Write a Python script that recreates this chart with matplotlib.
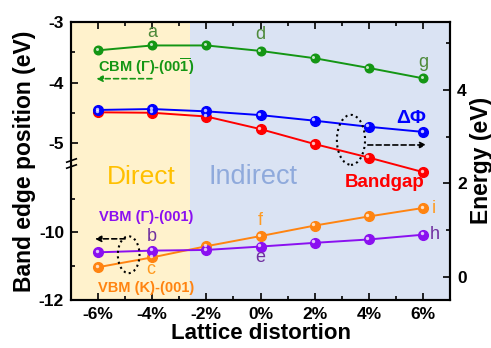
import numpy as np
import matplotlib
matplotlib.use("Agg")
import matplotlib.pyplot as plt
from matplotlib.patches import Ellipse
from matplotlib.transforms import offset_copy

plt.rcParams['font.family'] = ['Liberation Sans', 'DejaVu Sans']
plt.rcParams['font.weight'] = 'bold'
plt.rcParams['axes.labelweight'] = 'bold'
plt.rcParams['axes.unicode_minus'] = False
plt.rcParams['mathtext.fontset'] = 'custom'
plt.rcParams['mathtext.rm'] = 'Liberation Sans:bold'
plt.rcParams['mathtext.bf'] = 'Liberation Sans:bold'

# data
strain = [-6, -4, -2, 0, 2, 4, 6]
strain_labels = ['-6%', '-4%', '-2%', '0%', '2%', '4%', '6%']
cbm_gamma = [-3.47, -3.39, -3.39, -3.48, -3.60, -3.76, -3.93]
vbm_gamma = [-10.59, -10.54, -10.52, -10.42, -10.31, -10.21, -10.07]
vbm_k = [-11.03, -10.74, -10.41, -10.11, -9.80, -9.53, -9.28]
delta_phi = [3.57, 3.59, 3.54, 3.46, 3.34, 3.21, 3.10]
bandgap = [3.52, 3.51, 3.43, 3.16, 2.84, 2.55, 2.24]

# broken left axis: -12..-8 and -5.3..-3, gap squeezed to a few pixels
GAP_LO, GAP_HI = -8.0, -5.3
S_LO, S_HI, S_GAP = 33.8, 60.8, 3.0
B_TOP = (GAP_LO + 12) * S_LO


def fwd(y):
    y = np.asarray(y, float)
    return np.where(y <= GAP_LO, (y + 12) * S_LO,
                    np.where(y >= GAP_HI, B_TOP + S_GAP + (y - GAP_HI) * S_HI,
                             B_TOP + (y - GAP_LO) * S_GAP / (GAP_HI - GAP_LO)))


def inv(v):
    v = np.asarray(v, float)
    return np.where(v <= B_TOP, v / S_LO - 12,
                    np.where(v >= B_TOP + S_GAP, GAP_HI + (v - B_TOP - S_GAP) / S_HI,
                             GAP_LO + (v - B_TOP) * (GAP_HI - GAP_LO) / S_GAP))


fig = plt.figure(figsize=(4.91, 3.48), dpi=100)
ax = fig.add_axes([0.1446, 0.1379, 0.772, 0.7997])
ax.set_xlim(-7, 7)
ax.set_yscale('function', functions=(fwd, inv))
ax.set_ylim(-12, -3)

ax.axvspan(-7, -2.6, color='#FFF2CC', lw=0, zorder=0)
ax.axvspan(-2.6, 7, color='#DAE3F3', lw=0, zorder=0)

ax2 = ax.twinx()
ax2.set_ylim(-0.5, 5.46)


def balls(axis, ys, color, ms=6.5):
    axis.plot(strain, ys, '-', color=color, lw=1.4, marker='o', ms=ms,
              mec=color, mfc=color, zorder=3)
    tr = offset_copy(axis.transData, fig=fig, x=-1.0, y=1.0, units='points')
    axis.plot(strain, ys, 'o', color='white', ms=ms * 0.35, mew=0,
              alpha=0.75, transform=tr, zorder=4)


balls(ax, cbm_gamma, '#149614', 6.2)
balls(ax, vbm_k, '#FF8411', 7.0)
balls(ax, vbm_gamma, '#8A10F0', 7.0)
balls(ax2, bandgap, '#FF0000', 7.0)
balls(ax2, delta_phi, '#0000FF', 7.0)

ax.set_xticks(strain)
ax.set_xticklabels(strain_labels)
ax.set_xticks([-5, -3, -1, 1, 3, 5], minor=True)
ax.set_yticks([-12, -10, -5, -4, -3])
ax.set_yticklabels(['-12', '-10', '-5', '-4', '-3'])
ax.set_yticks([-11, -9, -4.5, -3.5], minor=True)
ax.tick_params(which='both', direction='in', top=True, labelsize=12.5, width=1.2, pad=5)
ax.tick_params(which='major', length=5)
ax.tick_params(which='minor', length=3)
ax2.set_yticks([0, 2, 4])
ax2.set_yticks([1, 3, 5], minor=True)
ax2.tick_params(which='both', direction='in', labelsize=12.5, width=1.2, pad=5)
ax2.tick_params(which='major', length=5)
ax2.tick_params(which='minor', length=3)
for a in (ax, ax2):
    for s in a.spines.values():
        s.set_linewidth(1.5)

ax.set_xlabel('Lattice distortion', fontsize=16, labelpad=1)
ax.set_ylabel('Band edge position (eV)', fontsize=16.5, labelpad=2)
ax2.set_ylabel('Energy (eV)', fontsize=16.5, labelpad=2)

# break marks on the left spine
ymid = (GAP_LO + GAP_HI) / 2
for dy in (-2.0, 2.0):
    tr = offset_copy(ax.get_yaxis_transform(), fig=fig, x=0, y=dy, units='points')
    ax.plot([0], [ymid], marker=[(-1, -0.35), (1, 0.35)], ms=8, color='k',
            mew=1.2, ls='none', transform=tr, clip_on=False, zorder=6)

# annotations
t = dict(ha='center', va='center', fontweight='normal', fontsize=13)
ax2.text(-4, 5.22, 'a', color='#4E8A3A', **t)
ax2.text(0, 5.18, 'd', color='#4E8A3A', **t)
ax2.text(6, 4.58, 'g', color='#4E8A3A', **t)
ax2.text(-4, 0.86, 'b', color='#7030A0', **t)
ax2.text(0, 0.40, 'e', color='#7030A0', **t)
ax2.text(6.45, 0.91, 'h', color='#7030A0', **t)
ax2.text(-4.04, 0.16, 'c', color='#FF9A20', **t)
ax2.text(0, 1.21, 'f', color='#FF9A20', **t)
ax2.text(6.4, 1.45, 'i', color='#FF9A20', **t)

ax2.text(-4.24, 4.5, r'CBM (Γ)-(00$\overline{1}$)', color='#149614', ha='center',
         va='center', fontsize=10.5)
ax2.text(-4.21, 1.27, 'VBM (Γ)-(001)', color='#8A10F0', ha='center', va='center', fontsize=10.5)
ax2.text(-4.21, -0.25, 'VBM (K)-(001)', color='#FF8411', ha='center', va='center', fontsize=10.5)
ax2.text(5.57, 3.39, 'ΔΦ', color='#0000FF', ha='center', va='center', fontsize=14)
ax2.text(4.57, 2.02, 'Bandgap', color='#FF0000', ha='center', va='center', fontsize=13.5)
ax2.text(-4.41, 2.14, 'Direct', color='#FFC000', ha='center', va='center',
         fontsize=19, fontweight='normal')
ax2.text(-0.27, 2.14, 'Indirect', color='#8FAADC', ha='center', va='center',
         fontsize=19.5, fontweight='normal')

ax2.add_patch(Ellipse((-4.87, 0.47), 0.8, 0.79, fill=False, ls=':', lw=1.5, ec='k', zorder=5))
ax2.add_patch(Ellipse((3.34, 2.93), 1.04, 1.07, fill=False, ls=':', lw=1.5, ec='k', zorder=5))

arrow = dict(arrowstyle='-|>', ls=(0, (3, 2)), lw=1.2, mutation_scale=9)
ax2.annotate('', xy=(-6.17, 4.24), xytext=(-3.91, 4.24),
             arrowprops=dict(color='#149614', **arrow))
ax2.annotate('', xy=(-6.22, 0.81), xytext=(-4.9, 0.81),
             arrowprops=dict(color='k', **arrow))
ax2.annotate('', xy=(6.23, 2.82), xytext=(3.86, 2.82),
             arrowprops=dict(color='k', **arrow))

fig.savefig('out.png', dpi=100)
